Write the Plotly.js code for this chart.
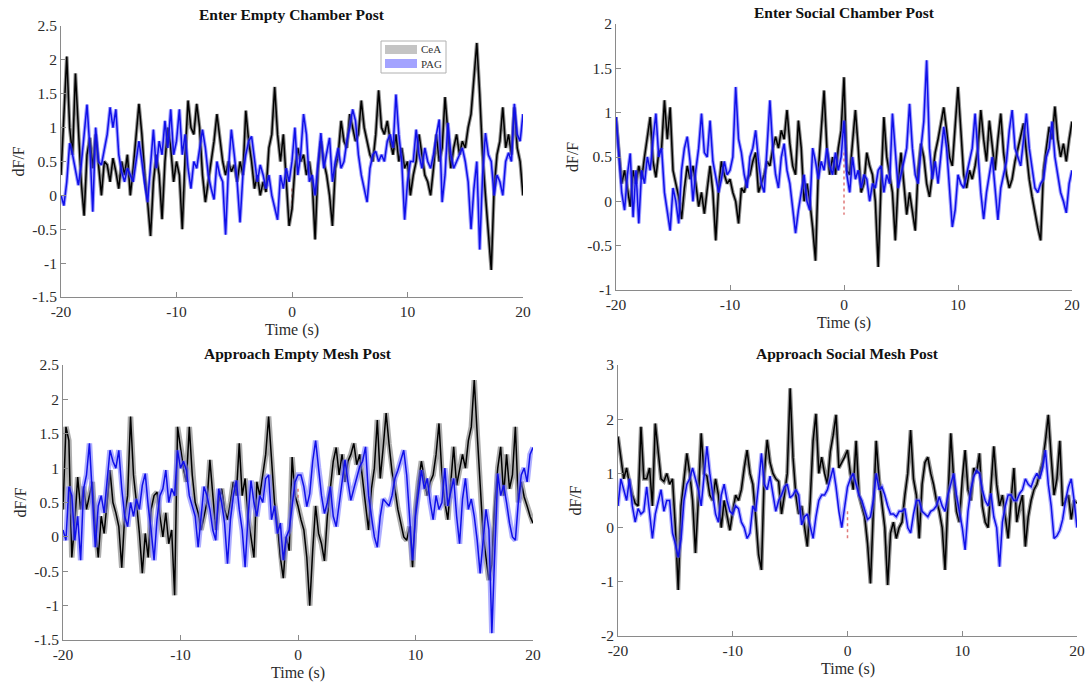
<!DOCTYPE html>
<html>
<head>
<meta charset="utf-8">
<script src="https://cdn.plot.ly/plotly-3.0.1.min.js"></script>
<style>html,body{margin:0;padding:0;background:#fff;}#chart{width:1088px;height:686px;}</style>
</head>
<body>
<div id="chart"></div>
<script>
// ---- sampling grid (s) ----
const tStart = -20, tStep = 0.25, nSamples = 161;
const time = [];
for (let i = 0; i < nSamples; i++) time.push(+(tStart + i * tStep).toFixed(2));

// ---- panel titles / series names ----
const panelTitles = ["Enter Empty Chamber Post", "Enter Social Chamber Post", "Approach Empty Mesh Post", "Approach Social Mesh Post"];
const seriesNames = ["CeA", "PAG"];

// ---- Panel 1: Enter Empty Chamber Post ----
const p1CeA = [
 0.3,1.2,2.05,1.0,0.6,1.8,0.9,0.2,
 -0.3,0.6,0.85,0.4,0.9,0.5,0.0,0.5,
 0.45,0.2,0.55,0.35,0.1,0.5,0.3,0.6,
 0.0,0.4,0.9,1.35,0.9,0.3,-0.1,-0.6,
 0.2,0.6,0.3,-0.35,0.5,1.0,0.7,0.2,
 0.5,0.3,-0.5,0.6,1.4,1.0,0.9,1.35,
 1.0,0.3,-0.1,0.2,0.5,0.8,1.2,0.8,
 0.5,0.3,0.5,0.35,0.45,0.2,0.5,0.3,
 1.25,0.8,0.5,0.1,0.3,0.0,0.2,0.05,
 0.7,0.9,1.6,0.9,0.5,0.9,0.2,-0.45,
 -0.2,0.4,0.7,0.5,0.6,0.3,0.5,0.2,
 -0.65,0.4,0.8,0.5,0.3,0.0,-0.45,0.4,
 0.6,1.1,0.8,0.7,1.2,1.0,0.8,0.9,
 1.4,1.0,0.8,0.6,0.5,0.9,1.55,1.0,
 0.9,1.1,0.8,0.6,0.9,0.5,0.7,0.4,
 0.5,0.0,0.3,0.5,0.9,0.6,0.3,0.2,
 0.0,0.4,0.9,0.5,0.7,1.45,0.9,0.4,
 0.7,0.9,0.6,0.8,0.7,1.0,1.2,1.8,
 2.25,1.5,0.6,0.0,-0.5,-1.1,0.1,0.6,
 0.8,1.3,0.7,0.9,0.6,1.3,0.7,0.5,
 0.0];
const p1PAG = [
 0.0,-0.15,0.2,0.77,0.6,0.4,0.15,0.45,
 0.9,1.34,0.7,-0.24,1.0,0.5,0.45,0.7,
 0.9,1.3,1.0,1.27,0.6,0.35,0.2,0.4,
 0.3,0.2,0.5,0.8,0.5,0.15,-0.1,0.4,
 0.97,0.4,0.8,0.6,1.1,0.7,1.27,0.6,
 0.8,1.27,0.6,0.9,0.4,0.1,0.5,0.4,
 0.7,0.97,0.7,0.3,0.1,-0.06,0.5,0.3,
 0.2,-0.58,0.4,0.97,0.6,0.2,-0.4,0.3,
 0.6,0.8,0.87,0.5,0.2,0.45,0.3,0.1,
 0.3,0.0,-0.2,-0.36,0.3,0.1,0.4,0.2,
 0.5,1.0,0.3,0.6,1.2,0.9,0.2,0.3,
 0.0,0.5,0.92,0.4,0.6,0.85,0.2,0.5,
 0.7,0.4,0.5,0.8,1.0,1.27,1.1,0.6,
 0.3,0.1,-0.1,0.4,0.6,0.65,0.5,0.6,
 0.5,0.8,0.9,0.7,1.49,0.9,0.5,-0.36,
 0.2,0.5,0.5,0.97,0.6,0.4,0.7,0.5,
 0.4,0.6,0.9,1.12,-0.1,0.3,1.07,0.6,
 0.4,0.5,0.6,0.7,0.5,0.2,-0.5,0.1,
 0.5,-0.8,0.3,0.92,0.6,0.5,0.0,0.3,
 0.2,0.0,0.5,0.63,0.5,1.35,0.9,0.8,
 1.2];

// ---- Panel 2: Enter Social Chamber Post ----
const p2CeA = [
 0.95,0.6,0.2,0.35,0.15,-0.06,0.35,0.2,
 0.4,0.25,0.5,0.73,0.95,0.45,0.27,0.55,
 0.6,1.14,0.7,1.06,0.35,0.2,0.05,-0.2,
 0.15,0.4,0.25,0.4,0.2,-0.06,0.1,-0.14,
 0.15,0.4,0.1,-0.44,0.15,0.45,0.3,0.2,
 0.25,0.1,0.0,-0.25,0.15,0.1,0.25,0.3,
 0.45,0.55,0.1,0.2,0.3,0.45,0.4,0.6,
 0.73,0.6,0.8,0.7,1.03,0.65,0.4,0.3,
 0.91,0.6,0.0,0.2,0.0,-0.3,-0.67,0.35,
 0.8,1.25,0.6,0.3,0.5,0.3,0.6,0.8,
 1.4,0.35,0.3,0.7,1.03,0.6,0.1,0.2,
 0.55,0.4,0.3,0.0,-0.74,0.2,0.95,0.5,
 0.3,0.1,-0.44,0.2,0.55,0.2,-0.15,0.1,
 -0.1,-0.33,0.35,0.65,0.5,0.2,0.05,0.3,
 0.55,0.7,0.9,1.06,0.8,0.5,0.4,0.8,
 1.29,0.8,0.3,0.15,0.35,0.25,0.4,0.6,
 1.03,0.7,0.45,0.91,0.6,0.35,0.7,0.99,
 0.55,0.3,0.15,0.25,0.45,0.6,0.75,0.88,
 0.55,0.25,0.05,-0.15,-0.3,-0.44,0.35,0.6,
 0.84,0.7,1.07,0.7,0.5,0.65,0.45,0.7,
 0.9];
const p2PAG = [
 0.95,0.5,0.1,-0.1,0.3,0.54,-0.18,0.35,
 -0.25,0.35,0.2,0.5,0.35,0.7,0.99,0.5,
 0.6,0.1,-0.1,-0.33,0.15,0.0,-0.25,0.35,
 0.6,0.73,0.45,0.0,0.35,0.6,0.99,0.55,
 0.5,0.91,0.45,0.25,0.1,0.25,0.45,0.3,
 0.35,0.5,1.29,0.7,0.55,0.3,0.15,0.5,
 0.6,0.8,0.45,0.2,0.1,0.6,1.14,0.6,
 0.3,0.15,0.5,0.65,0.35,0.2,-0.1,-0.36,
 -0.1,0.1,0.3,0.0,-0.1,0.6,0.45,0.25,
 0.45,0.35,0.6,0.4,0.3,0.55,0.35,0.5,
 0.91,0.3,0.1,0.5,0.25,0.35,0.15,0.3,
 0.25,0.0,0.2,0.15,0.35,0.4,0.1,0.3,
 0.2,0.99,0.55,0.15,0.3,0.45,0.6,1.1,
 0.6,0.3,0.2,0.6,0.9,1.59,0.6,0.25,
 0.45,0.2,0.5,0.84,0.6,0.2,-0.29,-0.1,
 0.3,0.2,0.15,0.3,0.45,0.6,0.99,0.5,
 0.1,-0.2,0.1,0.3,0.5,0.15,-0.21,0.15,
 0.3,0.45,0.8,1.03,0.6,0.5,0.4,0.7,
 0.99,0.6,0.4,0.15,0.1,0.2,0.25,0.5,
 0.6,0.9,0.5,0.3,0.1,0.0,-0.13,0.2,
 0.35];

// ---- Panel 3: Approach Empty Mesh Post ----
const p3CeA = [
 0.4,1.6,1.4,-0.3,0.2,0.87,0.4,0.73,
 0.4,0.6,0.8,0.15,-0.3,0.3,0.05,0.5,
 0.97,0.5,0.35,0.15,-0.45,0.3,0.6,1.75,
 0.9,0.5,0.05,-0.53,0.05,-0.3,0.4,0.6,
 0.65,0.3,0.0,0.35,-0.1,0.1,-0.85,1.6,
 1.3,1.0,0.8,1.6,0.9,0.5,0.35,0.1,
 0.3,0.5,1.12,0.6,0.1,0.5,0.7,0.4,
 0.25,0.5,0.8,0.6,1.36,0.6,0.85,0.3,
 0.0,-0.3,0.8,0.6,0.9,1.2,1.75,1.1,
 0.5,0.2,-0.3,-0.6,0.0,-0.2,1.16,0.6,
 0.45,0.25,0.1,-0.3,-1.0,-0.2,0.45,0.05,
 -0.1,-0.35,0.3,0.7,1.1,1.3,0.9,1.2,
 0.8,1.1,1.2,1.36,1.05,1.2,0.8,0.4,
 0.1,0.7,1.0,1.7,0.85,1.3,1.8,1.35,
 0.95,0.7,0.4,0.2,0.0,-0.05,0.15,-0.44,
 0.4,0.8,1.1,0.85,0.6,0.8,0.9,1.2,
 1.65,0.9,0.5,0.25,0.8,1.31,0.75,1.0,
 1.2,1.0,1.4,1.6,2.28,1.5,0.8,0.05,
 -0.3,-0.63,-0.4,0.5,1.0,1.31,0.6,1.2,
 0.7,0.9,1.6,0.5,0.8,0.58,0.45,0.3,
 0.2];
const p3PAG = [
 0.1,-0.05,0.73,0.6,-0.05,0.3,-0.34,0.7,
 0.9,1.36,0.6,-0.15,0.45,0.6,0.35,0.8,
 1.26,1.1,1.0,1.26,0.7,0.3,0.15,0.5,
 0.3,0.55,0.4,0.75,0.92,0.45,0.1,-0.34,
 0.25,0.6,0.7,0.97,0.5,0.7,0.6,1.26,
 1.0,1.1,0.97,0.6,0.45,0.3,-0.15,0.3,
 0.73,0.6,0.4,0.1,-0.05,0.7,0.5,0.2,
 -0.39,0.25,0.6,0.82,0.4,0.1,-0.44,0.3,
 0.82,0.5,0.3,0.6,0.5,0.85,0.9,0.25,
 0.45,0.05,0.2,-0.34,0.0,0.1,0.45,0.8,
 0.9,0.9,0.73,0.44,0.63,1.1,1.4,1.0,
 0.6,0.34,0.5,0.73,0.3,0.15,0.5,0.8,
 1.12,0.8,0.53,0.7,0.87,1.02,1.1,1.31,
 0.6,0.3,0.0,-0.15,0.3,0.55,0.5,0.45,
 0.6,0.85,0.97,1.1,1.26,0.9,0.35,-0.34,
 0.3,0.65,0.97,0.7,0.85,0.5,0.25,0.6,
 0.4,0.5,1.0,0.45,0.65,0.85,0.3,-0.1,
 0.55,0.85,0.4,0.55,0.3,-0.05,-0.53,-0.1,
 0.4,0.1,-1.4,-0.2,0.92,0.6,0.75,0.5,
 0.2,0.0,-0.05,0.5,0.9,1.0,0.8,1.2,
 1.3];

// ---- Panel 4: Approach Social Mesh Post ----
const p4CeA = [
 1.68,1.3,0.9,1.1,0.8,0.6,0.45,0.4,
 1.86,0.9,0.9,1.1,0.4,1.92,1.4,0.9,
 0.85,1.0,0.8,0.9,0.0,-1.15,0.4,0.9,
 1.37,1.0,0.5,-0.47,0.5,1.74,1.0,0.95,
 0.6,0.5,0.9,0.6,0.0,0.5,0.2,-0.05,
 0.3,0.6,0.5,0.7,1.1,1.43,1.0,0.8,
 0.2,-0.5,-0.78,1.0,1.62,1.2,1.0,0.9,
 0.85,0.25,0.6,1.0,2.57,1.3,0.6,0.25,
 0.4,0.0,-0.35,0.5,1.6,2.1,1.0,1.3,
 1.0,0.8,1.4,1.7,2.08,1.1,1.2,1.3,
 1.43,1.0,0.7,1.6,0.6,0.4,0.2,-0.3,
 -1.03,0.3,1.6,0.9,0.5,0.0,-1.06,-0.1,
 0.1,-0.2,0.0,0.1,0.6,1.0,1.8,0.9,
 0.6,-0.2,0.8,1.2,1.3,1.0,0.8,0.5,
 0.3,0.0,-0.78,0.6,1.74,0.9,0.3,0.1,
 0.9,1.43,0.7,0.5,1.1,1.0,1.37,0.4,
 0.1,0.0,0.7,1.5,0.8,0.4,0.6,0.2,
 -0.2,0.5,1.1,0.1,0.4,0.6,-0.35,0.2,
 0.5,0.7,0.8,1.0,1.2,1.6,2.08,1.3,
 0.6,0.9,1.6,0.4,0.5,0.6,0.15,0.5,
 0.45];
const p4PAG = [
 0.4,0.9,0.7,0.5,0.9,0.4,0.1,0.35,
 0.25,0.3,0.75,0.3,-0.2,0.25,0.5,0.7,
 0.3,0.5,0.5,-0.1,-0.3,-0.55,-0.2,0.5,
 0.8,0.9,1.1,0.9,0.7,0.4,1.0,1.5,
 1.0,0.6,0.25,0.1,0.6,0.8,0.5,0.3,
 0.25,0.4,0.35,0.1,0.0,-0.2,-0.1,0.4,
 0.3,0.8,1.37,0.8,0.7,0.95,0.6,0.3,
 0.5,0.6,0.75,0.8,0.55,0.6,0.7,0.6,
 0.05,0.2,0.25,0.0,-0.2,0.2,0.5,0.6,
 0.6,0.7,0.9,1.1,0.75,0.3,0.0,0.4,
 0.75,0.9,1.0,0.8,0.6,0.5,0.3,0.15,
 0.2,0.5,1.0,0.7,0.75,0.6,0.4,0.25,
 0.25,0.2,0.3,0.3,0.35,0.0,-0.1,0.25,
 0.5,0.5,0.3,0.25,0.2,0.3,0.33,0.4,
 0.57,0.4,0.3,0.6,0.8,1.0,0.6,0.3,
 0.0,-0.41,0.3,0.7,0.94,1.05,1.0,0.7,
 0.5,0.4,0.63,0.2,0.0,-0.72,0.1,0.4,
 0.6,0.6,0.5,0.5,0.63,0.7,0.9,0.8,
 0.75,0.9,1.0,0.9,1.1,1.43,0.8,0.4,
 -0.2,-0.15,-0.05,0.15,0.5,0.75,0.9,0.5,
 0.0];

// ---- event marker (red dashed at t = 0), visible extent per panel ----
const eventTop = [0.1, 0.55, 0.7, 0.3];
const eventBottom = [-0.25, -0.15, 0.5, -0.2];

// ---- axes ticks ----
const xTicks = [-20, -10, 0, 10, 20];
const xTickText = ["-20", "-10", "0", "10", "20"];
const yTicksA = [-1.5, -1, -0.5, 0, 0.5, 1, 1.5, 2, 2.5];
const yTickTextA = ["-1.5", "-1", "-0.5", "0", "0.5", "1", "1.5", "2", "2.5"];
const yTicksB = [-1, -0.5, 0, 0.5, 1, 1.5, 2];
const yTickTextB = ["-1", "-0.5", "0", "0.5", "1", "1.5", "2"];
const yTicksD = [-2, -1, 0, 1, 2, 3];
const yTickTextD = ["-2", "-1", "0", "1", "2", "3"];

// ---- styling ----
const W = 1088, H = 686;
const SERIF = '"Liberation Serif", "Times New Roman", Times, serif';
const AXC = '#8a8a8a';
// panel boxes in px: [left, right, top, bottom]
const boxes = [[61, 523, 26, 297], [616, 1072, 24, 290], [63, 533, 365, 640], [618, 1077, 365, 636]];
const yRanges = [[-1.5, 2.5], [-1, 2], [-1.5, 2.5], [-2, 3]];
const yTickSets = [[yTicksA, yTickTextA], [yTicksB, yTickTextB], [yTicksA, yTickTextA], [yTicksD, yTickTextD]];
const bandW = [3.6, 3.6, 5.5, 4.0];
const bandCeA = ['rgba(70,70,70,0.6)', 'rgba(70,70,70,0.6)', 'rgba(140,140,140,0.7)', 'rgba(70,70,70,0.6)'];
const bandPAG = ['rgba(80,80,255,0.55)', 'rgba(80,80,255,0.55)', 'rgba(120,120,255,0.6)', 'rgba(110,110,255,0.55)'];
const series = [[p1CeA, p1PAG], [p2CeA, p2PAG], [p3CeA, p3PAG], [p4CeA, p4PAG]];

const traces = [];
const layout = {
  width: W, height: H, margin: {l: 0, r: 0, t: 0, b: 0},
  paper_bgcolor: '#fff', plot_bgcolor: '#fff', showlegend: false,
  font: {family: SERIF, size: 15, color: '#2b2b2b'},
  annotations: [], shapes: []
};

for (let p = 0; p < 4; p++) {
  const b = boxes[p];
  const xa = p === 0 ? 'x' : 'x' + (p + 1), ya = p === 0 ? 'y' : 'y' + (p + 1);
  const xk = p === 0 ? 'xaxis' : 'xaxis' + (p + 1), yk = p === 0 ? 'yaxis' : 'yaxis' + (p + 1);
  layout[xk] = {
    domain: [b[0] / W, b[1] / W], anchor: ya, range: [-20, 20],
    tickvals: xTicks, ticktext: xTickText, ticks: 'inside', ticklen: 5, tickcolor: AXC,
    showline: true, linecolor: AXC, linewidth: 1, showgrid: false, zeroline: false,
    tickfont: {family: SERIF, size: 15.5, color: '#2b2b2b'}, fixedrange: true
  };
  layout[yk] = {
    domain: [1 - b[3] / H, 1 - b[2] / H], anchor: xa, range: yRanges[p],
    tickvals: yTickSets[p][0], ticktext: yTickSets[p][1], ticks: 'inside', ticklen: 5, tickcolor: AXC,
    showline: true, linecolor: AXC, linewidth: 1, showgrid: false, zeroline: false,
    tickfont: {family: SERIF, size: 15.5, color: '#2b2b2b'}, fixedrange: true
  };
  // event marker
  traces.push({x: [0, 0], y: [eventTop[p], eventBottom[p]], xaxis: xa, yaxis: ya, mode: 'lines',
    line: {color: '#e07a7a', width: 1.5, dash: '3px,3px'}, hoverinfo: 'skip'});
  const [cea, pag] = series[p];
  // CeA band + line
  traces.push({x: time, y: cea, xaxis: xa, yaxis: ya, mode: 'lines', name: seriesNames[0],
    line: {color: bandCeA[p], width: bandW[p]}, hoverinfo: 'skip'});
  traces.push({x: time, y: cea, xaxis: xa, yaxis: ya, mode: 'lines', name: seriesNames[0],
    line: {color: '#000000', width: 1.5}});
  // PAG band + line
  traces.push({x: time, y: pag, xaxis: xa, yaxis: ya, mode: 'lines', name: seriesNames[1],
    line: {color: bandPAG[p], width: bandW[p]}, hoverinfo: 'skip'});
  traces.push({x: time, y: pag, xaxis: xa, yaxis: ya, mode: 'lines', name: seriesNames[1],
    line: {color: '#1010e8', width: 1.5}});

  const cx = (b[0] + b[1]) / 2;
  // panel title
  layout.annotations.push({text: '<b>' + panelTitles[p] + '</b>', xref: 'paper', yref: 'paper',
    x: cx / W, y: 1 - (b[2] - 12) / H, xanchor: 'center', yanchor: 'middle', showarrow: false,
    font: {family: SERIF, size: 15.5, color: '#111'}});
  // x axis title
  layout.annotations.push({text: 'Time (s)', xref: 'paper', yref: 'paper',
    x: cx / W, y: 1 - (b[3] + 33) / H, xanchor: 'center', yanchor: 'middle', showarrow: false,
    font: {family: SERIF, size: 16, color: '#2b2b2b'}});
  // y axis title
  layout.annotations.push({text: 'dF/F', xref: 'paper', yref: 'paper', textangle: -90,
    x: (b[0] - 43) / W, y: 1 - ((b[2] + b[3]) / 2) / H, xanchor: 'center', yanchor: 'middle', showarrow: false,
    font: {family: SERIF, size: 16, color: '#2b2b2b'}});
}

// ---- legend (panel 1) ----
const lg = {x0: 381, x1: 446, y0: 41, y1: 73};
layout.shapes.push({type: 'rect', xref: 'paper', yref: 'paper', x0: lg.x0 / W, x1: lg.x1 / W,
  y0: 1 - lg.y1 / H, y1: 1 - lg.y0 / H, line: {color: '#b0b0b0', width: 1}, fillcolor: '#ffffff'});
layout.shapes.push({type: 'rect', xref: 'paper', yref: 'paper', x0: 385 / W, x1: 417 / W,
  y0: 1 - 54 / H, y1: 1 - 45 / H, line: {width: 0}, fillcolor: '#c4c4c4'});
layout.shapes.push({type: 'rect', xref: 'paper', yref: 'paper', x0: 385 / W, x1: 417 / W,
  y0: 1 - 68 / H, y1: 1 - 59 / H, line: {width: 0}, fillcolor: '#a3a3ff'});
layout.annotations.push({text: seriesNames[0], xref: 'paper', yref: 'paper', x: 419 / W, y: 1 - 49.5 / H,
  xanchor: 'left', yanchor: 'middle', showarrow: false, font: {family: SERIF, size: 11, color: '#333'}});
layout.annotations.push({text: seriesNames[1], xref: 'paper', yref: 'paper', x: 419 / W, y: 1 - 63.5 / H,
  xanchor: 'left', yanchor: 'middle', showarrow: false, font: {family: SERIF, size: 11, color: '#333'}});

Plotly.newPlot('chart', traces, layout, {staticPlot: true, displayModeBar: false});
</script>
</body>
</html>
